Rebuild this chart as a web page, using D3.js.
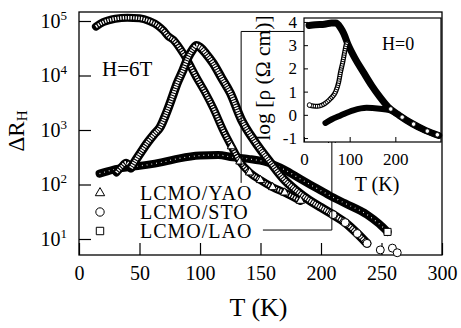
<!DOCTYPE html>
<html>
<head>
<meta charset="utf-8">
<script src="https://cdn.jsdelivr.net/npm/d3@7"></script>
<style>
  body { margin: 0; background: #fff; }
  svg { display: block; }
  svg text { font-family: "Liberation Serif", "Times New Roman", serif; fill: #000; }
</style>
</head>
<body>
<div id="container"></div>
<script>
// ---- main panel (H = 6T): T in K, Delta R_H
const yaoT = [14, 20, 30, 40, 50, 58, 65, 70, 74, 78, 84, 89, 97, 104, 111, 119, 126, 133, 141, 150, 160, 170, 183];
const yaoR = [7.9e4, 9.5e4, 1.1e5, 1.15e5, 1.12e5, 1.0e5, 8.3e4, 6.6e4, 5.2e4, 4.5e4, 3.0e4, 2.0e4, 9.3e3, 5.0e3, 2.5e3, 1.0e3, 500, 263, 166, 120, 89, 71, 50];

const stoT = [31, 35, 39, 43, 47, 52, 57, 62, 67, 72, 77, 81, 86, 90, 94, 97, 100, 105, 111, 118, 125, 134, 145, 158, 170, 180, 190, 200, 210, 220, 230, 238, 249, 259, 263];
const stoR = [166, 209, 251, 200, 282, 417, 603, 832, 1.12e3, 2.0e3, 3.98e3, 7.1e3, 1.26e4, 2.1e4, 3.0e4, 3.55e4, 3.3e4, 2.5e4, 1.66e4, 8.9e3, 4.8e3, 1.58e3, 631, 257, 120, 76, 52, 38, 28, 20, 12.6, 8.3, 6.3, 6.8, 5.6];

const laoT = [17, 28, 42, 56, 69, 83, 100, 115, 127, 140, 155, 170, 183, 195, 207, 220, 238, 248, 255];
const laoR = [158, 186, 209, 229, 257, 302, 339, 347, 316, 295, 257, 186, 126, 89, 63, 45, 28, 19, 13.5];

const xTicks = [0, 50, 100, 150, 200, 250, 300];
const yTicks = [10, 100, 1000, 1e4, 1e5];
const legendNames = ["LCMO/YAO", "LCMO/STO", "LCMO/LAO"];

// ---- inset (H = 0): T in K, log rho
const yaoInT = [11, 25, 45, 60, 70, 80, 87, 97, 112, 130, 148, 166, 184, 209, 237, 266, 295];
const yaoInLog = [3.85, 3.88, 3.9, 3.95, 3.95, 3.75, 3.5, 3.0, 2.42, 1.84, 1.27, 0.77, 0.34, -0.03, -0.38, -0.67, -0.89];

const laoInT = [47, 60, 80, 108, 137, 166, 187, 200, 209, 237, 266, 295];
const laoInLog = [-0.35, -0.2, -0.03, 0.19, 0.3, 0.26, 0.2, 0.08, -0.03, -0.38, -0.67, -0.89];

const stoInT = [12, 20, 30, 40, 50, 58, 69, 76, 80, 85, 89, 92, 95, 190, 215, 240, 270, 292];
const stoInLog = [0.42, 0.38, 0.37, 0.42, 0.55, 0.7, 0.98, 1.41, 1.84, 2.28, 2.7, 3.0, 3.15, 0.25, -0.1, -0.4, -0.7, -0.86];

const insetXTicks = [0, 100, 200];
const insetYTicks = [-1, 0, 1, 2, 3, 4];

let width = 461, height = 328;
let svg = d3.select("#container").append("svg")
  .attr("width", width)
  .attr("height", height);

// plot box
const L = 79, R = 442, T = 12, B = 255;

let x = d3.scaleLinear().domain([0, 300]).range([L, R]);
let y = d3.scaleLog().domain([10, 1e5]).range([239, 21]);

const zip = (a, b) => a.map((v, i) => [v, b[i]]);

// axes, ticks pointing inward
svg.append("g")
  .attr("transform", `translate(0,${B})`)
  .call(d3.axisBottom(x).tickValues(xTicks).tickSize(-12).tickSizeOuter(0).tickPadding(11).tickFormat(d => d))
  .call(g => g.select(".domain").remove())
  .call(g => g.selectAll(".tick line").attr("stroke-width", 1.2))
  .call(g => g.selectAll(".tick text").attr("font-size", 20));

let yAxis = svg.append("g")
  .attr("transform", `translate(${L},0)`)
  .call(d3.axisLeft(y).tickValues(yTicks).tickSize(-12).tickSizeOuter(0).tickFormat(""))
  .call(g => g.select(".domain").remove())
  .call(g => g.selectAll(".tick line").attr("stroke-width", 1.2));

yAxis.selectAll(".tick").append("text")
  .attr("x", -12).attr("y", 6)
  .attr("text-anchor", "end")
  .attr("font-size", 20)
  .each(function(d) {
    let t = d3.select(this);
    t.append("tspan").text("10");
    t.append("tspan").attr("dy", -8).attr("font-size", 13).text(Math.round(Math.log10(d)));
  });

svg.append("rect")
  .attr("x", L).attr("y", T).attr("width", R - L).attr("height", B - T)
  .attr("fill", "none").attr("stroke", "#000").attr("stroke-width", 1.3);

// axis titles
svg.append("text")
  .attr("x", (L + R) / 2 - 2).attr("y", 316)
  .attr("text-anchor", "middle").attr("font-size", 26)
  .text("T (K)");

let ylab = svg.append("text")
  .attr("transform", "translate(24,131) rotate(-90)")
  .attr("text-anchor", "middle").attr("font-size", 23);
ylab.append("tspan").text("ΔR");
ylab.append("tspan").attr("font-size", 15).attr("dy", 3).text("H");

svg.append("text")
  .attr("x", 102).attr("y", 76).attr("font-size", 21)
  .text("H=6T");

// a run of dense markers drawn as a band with a hatched white core
function band(g, pts, xs, ys, w, core, dash) {
  let line = d3.line().x(d => xs(d[0])).y(d => ys(d[1])).curve(d3.curveMonotoneX);
  g.append("path").attr("d", line(pts))
    .attr("fill", "none").attr("stroke", "#000")
    .attr("stroke-width", w).attr("stroke-linecap", "round").attr("stroke-linejoin", "round");
  if (core > 0) {
    g.append("path").attr("d", line(pts))
      .attr("fill", "none").attr("stroke", "#fff")
      .attr("stroke-width", core).attr("stroke-dasharray", dash);
  }
}

function markers(g, pts, xs, ys, type, size, sw) {
  g.selectAll(null)
    .data(pts)
    .join("path")
    .attr("transform", d => `translate(${xs(d[0])},${ys(d[1])})`)
    .attr("d", d3.symbol().type(type).size(size))
    .attr("fill", "#fff").attr("stroke", "#000").attr("stroke-width", sw);
}

let plot = svg.append("g");
let yao = zip(yaoT, yaoR), sto = zip(stoT, stoR), lao = zip(laoT, laoR);

band(plot, lao, x, y, 8, 1.2, "0.8 4");
band(plot, yao, x, y, 8, 3.4, "1.3 1.3");
band(plot, sto.slice(0, 4), x, y, 8, 3.4, "1.3 1.2");
band(plot, sto.slice(3, 32), x, y, 9, 4, "1.4 1.1");
markers(plot, yao.slice(16), x, y, d3.symbolTriangle, 30, 1);
markers(plot, sto.slice(28), x, y, d3.symbolCircle, 50, 1);
markers(plot, lao.slice(-1), x, y, d3.symbolSquare, 50, 1);

// legend
const legendY = [193, 212, 231];
const legendSym = [d3.symbolTriangle, d3.symbolCircle, d3.symbolSquare];
const legendSize = [38, 55, 55];
legendNames.forEach((name, i) => {
  svg.append("path")
    .attr("transform", `translate(100,${legendY[i]})`)
    .attr("d", d3.symbol().type(legendSym[i]).size(legendSize[i]))
    .attr("fill", "#fff").attr("stroke", "#000").attr("stroke-width", 1);
  svg.append("text")
    .attr("x", 140).attr("y", legendY[i] + 7)
    .attr("font-size", 20).attr("letter-spacing", 1)
    .text(name);
});

// ---- inset
const iL = 304, iR = 441, iT = 18, iB = 142;
let ix = d3.scaleLinear().domain([0, 300]).range([iL, iR]);
let iy = d3.scaleLinear().domain([-1.17, 4.17]).range([iB, iT]);

// connector lines from the legend to the inset curves
let ann = svg.append("g").attr("fill", "none").attr("stroke", "#000").attr("stroke-width", 1);
let a1 = [ix(68), iy(3.59)];
ann.append("path").attr("d", `M${x(134)},${y(107)}V${a1[1]}H${a1[0]}`);
ann.append("path").attr("d", `M${a1[0] - 15},${a1[1] - 4}L${a1[0]},${a1[1]}L${a1[0] - 15},${a1[1] + 4}`);
let a2 = [ix(61), iy(-0.61)];
ann.append("path").attr("d", `M${x(152)},${y(14.6)}H${a2[0]}V${a2[1]}`);
ann.append("path").attr("d", `M${a2[0] - 3.5},${a2[1] + 14}L${a2[0]},${a2[1]}L${a2[0] + 3.5},${a2[1] + 14}`);

svg.append("rect")
  .attr("x", iL).attr("y", iT).attr("width", iR - iL).attr("height", iB - iT)
  .attr("fill", "#fff").attr("stroke", "#000").attr("stroke-width", 1.2);

svg.append("g")
  .attr("transform", `translate(0,${iB})`)
  .call(d3.axisBottom(ix).tickValues(insetXTicks).tickSize(-5).tickSizeOuter(0).tickPadding(11).tickFormat(d => d))
  .call(g => g.select(".domain").remove())
  .call(g => g.selectAll(".tick text").attr("font-size", 17));

svg.append("g")
  .attr("transform", `translate(${iL},0)`)
  .call(d3.axisLeft(iy).tickValues(insetYTicks).tickSize(-4).tickSizeOuter(0).tickPadding(7).tickFormat(d => String(d)))
  .call(g => g.select(".domain").remove())
  .call(g => g.selectAll(".tick text").attr("font-size", 17));

svg.append("text")
  .attr("transform", "translate(270,78) rotate(-90)")
  .attr("text-anchor", "middle").attr("font-size", 21.5)
  .text("log [ρ (Ω cm)]");

svg.append("text")
  .attr("x", 377).attr("y", 191)
  .attr("text-anchor", "middle").attr("font-size", 20)
  .text("T (K)");

svg.append("text")
  .attr("x", 382).attr("y", 50).attr("font-size", 18)
  .text("H=0");

let inset = svg.append("g");
let yaoIn = zip(yaoInT, yaoInLog), laoIn = zip(laoInT, laoInLog), stoIn = zip(stoInT, stoInLog);
band(inset, laoIn, ix, iy, 6, 0, null);
band(inset, yaoIn, ix, iy, 7, 0, null);
band(inset, stoIn.filter(d => d[0] < 100), ix, iy, 5, 2.4, "1.2 1");
markers(inset, stoIn.filter(d => d[0] < 20 || d[0] > 100), ix, iy, d3.symbolCircle, 16, 0.8);
</script>
</body>
</html>
